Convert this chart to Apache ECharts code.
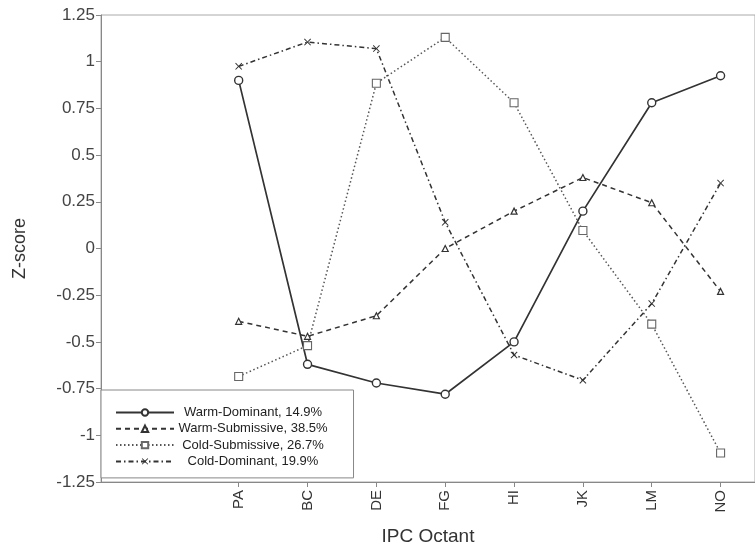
<!DOCTYPE html>
<html>
<head>
<meta charset="utf-8">
<script src="https://cdn.jsdelivr.net/npm/echarts@6/dist/echarts.min.js"></script>
<style>html,body{margin:0;padding:0;background:#fff}#c{width:755px;height:551px}</style>
</head>
<body>
<div id="c"></div>
<script>
var categories = ['PA', 'BC', 'DE', 'FG', 'HI', 'JK', 'LM', 'NO'];
var seriesNames = ['Warm-Dominant, 14.9%', 'Warm-Submissive, 38.5%', 'Cold-Submissive, 26.7%', 'Cold-Dominant, 19.9%'];
var warmDominant = [0.90, -0.62, -0.72, -0.78, -0.50, 0.20, 0.78, 0.925];
var warmSubmissive = [-0.39, -0.47, -0.36, 0.00, 0.20, 0.38, 0.245, -0.23];
var coldSubmissive = [-0.685, -0.52, 0.885, 1.13, 0.78, 0.096, -0.405, -1.095];
var coldDominant = [0.975, 1.105, 1.07, 0.14, -0.57, -0.705, -0.295, 0.35];
var categoryOffset = 2;

var FONT = 'Liberation Sans, Arial, sans-serif';
function pts(arr) { return arr.map(function (v, i) { return [i + categoryOffset, v]; }); }
var tickPositions = categories.map(function (c, i) { return i + categoryOffset; });
var xPath = 'path://M0,1L1,0L5,4L9,0L10,1L6,5L10,9L9,10L5,6L1,10L0,9L4,5Z';

var chart = echarts.init(document.getElementById('c'));
chart.setOption({
  animation: false,
  backgroundColor: '#fff',
  textStyle: { fontFamily: FONT },
  grid: { left: 101, top: 15, right: -10, bottom: 68, show: true, borderColor: '#aaa', borderWidth: 1 },
  xAxis: {
    type: 'value', min: 0, max: 9.5, interval: 1,
    name: 'IPC Octant', nameLocation: 'middle', nameGap: 45,
    nameTextStyle: { fontSize: 19, color: '#333', fontFamily: FONT },
    splitLine: { show: false },
    axisLine: { show: true, onZero: false, lineStyle: { color: '#888', width: 1 } },
    axisTick: { show: true, length: 5, lineStyle: { color: '#888' }, customValues: tickPositions },
    axisLabel: {
      rotate: 90, fontSize: 15, color: '#333', fontFamily: FONT, margin: 8,
      customValues: tickPositions,
      formatter: function (v) { return categories[Math.round(v) - categoryOffset] || ''; }
    }
  },
  yAxis: {
    type: 'value', min: -1.25, max: 1.25, interval: 0.25,
    name: 'Z-score', nameLocation: 'middle', nameGap: 72, nameRotate: 90,
    nameTextStyle: { fontSize: 18, color: '#333', fontFamily: FONT },
    splitLine: { show: false },
    axisLine: { show: true, onZero: false, lineStyle: { color: '#888', width: 1 } },
    axisTick: { show: true, length: 5, lineStyle: { color: '#888' } },
    axisLabel: { fontSize: 17, color: '#444', fontFamily: FONT, margin: 6 }
  },
  legend: {
    orient: 'vertical', left: 101, top: 390,
    backgroundColor: '#fff', borderColor: '#888', borderWidth: 1,
    padding: [16, 26, 10, 14],
    itemWidth: 58, itemHeight: 8, itemGap: 3.3,
    data: seriesNames,
    formatter: function (n) { return '{t|' + n + '}'; },
    textStyle: {
      fontFamily: FONT, fontSize: 13, color: '#222',
      rich: { t: { width: 148, align: 'center', fontSize: 13, lineHeight: 14, color: '#222', fontFamily: FONT } }
    }
  },
  series: [
    {
      name: seriesNames[0], type: 'line', data: pts(warmDominant),
      symbol: 'circle', symbolSize: 8,
      lineStyle: { color: '#333', width: 1.7, type: 'solid' },
      itemStyle: { color: '#fff', borderColor: '#333', borderWidth: 1.4 }
    },
    {
      name: seriesNames[1], type: 'line', data: pts(warmSubmissive),
      symbol: 'triangle', symbolSize: 6,
      lineStyle: { color: '#333', width: 1.5, type: [5, 4] },
      itemStyle: { color: '#fff', borderColor: '#333', borderWidth: 1.2 }
    },
    {
      name: seriesNames[2], type: 'line', data: pts(coldSubmissive),
      symbol: 'rect', symbolSize: 8,
      lineStyle: { color: '#555', width: 1.5, type: [1.5, 2.5] },
      itemStyle: { color: '#fff', borderColor: '#666', borderWidth: 1.1 }
    },
    {
      name: seriesNames[3], type: 'line', data: pts(coldDominant),
      symbol: xPath, symbolSize: 7,
      lineStyle: { color: '#333', width: 1.5, type: [5, 3, 1.5, 3] },
      itemStyle: { color: '#333', borderWidth: 0 }
    }
  ]
});
</script>
</body>
</html>
